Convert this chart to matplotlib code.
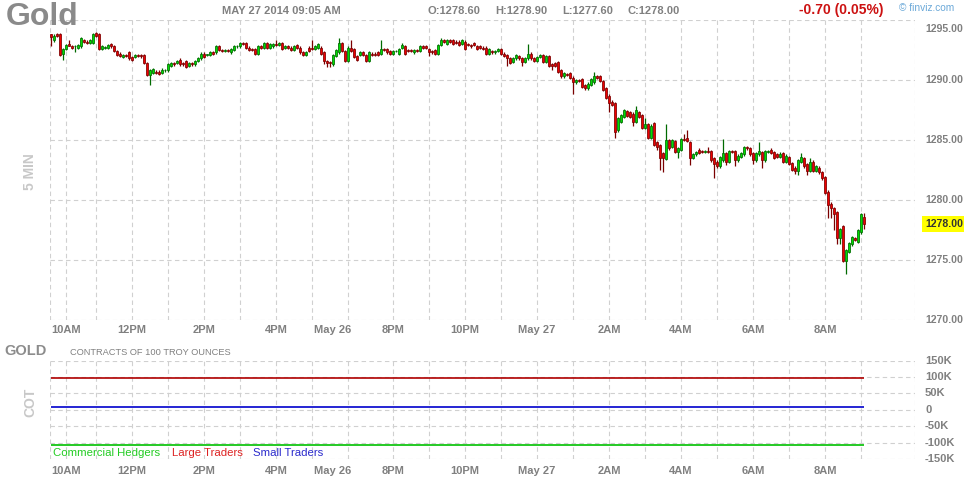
import matplotlib
matplotlib.use("Agg")
import matplotlib.pyplot as plt
import matplotlib.transforms as mtransforms

plt.rcParams['font.family'] = ['Liberation Sans', 'DejaVu Sans']

# ---------------- data (5-minute candles, Gold) ----------------
opens = [
    1293.8, 1293.3, 1293.8, 1293.8, 1292.2, 1292.6, 1293.0, 1292.8, 1292.8, 1292.7,
    1292.8, 1293.3, 1293.2, 1293.1, 1293.1, 1293.9, 1293.8, 1292.6, 1292.7, 1292.7,
    1293.0, 1292.8, 1292.4, 1292.2, 1291.9, 1292.1, 1292.3, 1291.9, 1291.9, 1292.1,
    1292.1, 1292.1, 1291.4, 1290.4, 1290.6, 1290.7, 1290.7, 1290.6, 1290.8, 1290.8,
    1291.2, 1291.4, 1291.4, 1291.7, 1291.4, 1291.6, 1291.2, 1291.4, 1291.3, 1291.6,
    1291.8, 1292.2, 1292.1, 1292.1, 1292.3, 1292.3, 1292.8, 1292.5, 1292.4, 1292.5,
    1292.3, 1292.5, 1292.8, 1292.8, 1293.1, 1293.1, 1292.7, 1292.6, 1292.6, 1292.2,
    1292.8, 1292.7, 1293.1, 1292.7, 1292.8, 1293.0, 1292.9, 1293.1, 1292.7, 1292.8,
    1292.7, 1292.5, 1292.9, 1292.7, 1292.3, 1292.1, 1292.7, 1292.7, 1292.6, 1292.7,
    1292.7, 1292.3, 1291.6, 1291.5, 1291.3, 1292.0, 1292.3, 1293.1, 1292.4, 1291.6,
    1292.7, 1292.6, 1292.0, 1292.1, 1292.3, 1292.1, 1291.6, 1292.2, 1292.2, 1292.3,
    1292.2, 1292.6, 1292.6, 1292.4, 1292.2, 1292.4, 1292.2, 1292.7, 1292.8, 1292.5,
    1292.5, 1292.3, 1292.5, 1292.4, 1292.8, 1292.8, 1292.6, 1292.4, 1292.5, 1292.2,
    1292.9, 1293.3, 1293.0, 1293.3, 1293.3, 1293.2, 1293.2, 1293.0, 1293.2, 1293.0,
    1292.9, 1293.1, 1292.8, 1292.8, 1292.7, 1292.7, 1292.2, 1292.4, 1292.3, 1292.4,
    1292.6, 1292.2, 1292.1, 1291.8, 1291.5, 1291.8, 1292.0, 1291.8, 1291.5, 1291.8,
    1292.2, 1291.8, 1291.6, 1291.9, 1292.1, 1291.5, 1292.0, 1291.3, 1291.4, 1291.5,
    1290.8, 1290.3, 1290.5, 1290.6, 1290.2, 1289.8, 1290.0, 1290.1, 1289.6, 1289.3,
    1289.6, 1289.8, 1290.3, 1290.3, 1289.9, 1289.3, 1288.7, 1288.2, 1288.1, 1285.8,
    1286.5, 1286.9, 1287.4, 1287.3, 1287.2, 1286.5, 1287.3, 1287.1, 1286.0, 1286.3,
    1285.2, 1286.4, 1284.8, 1284.6, 1283.9, 1283.4, 1285.0, 1284.4, 1284.9, 1284.0,
    1284.2, 1285.1, 1285.2, 1284.8, 1283.5, 1283.8, 1284.2, 1284.1, 1284.0, 1284.1,
    1284.1, 1283.5, 1283.2, 1282.8, 1283.3, 1283.9, 1283.2, 1284.1, 1284.1, 1283.3,
    1283.6, 1283.8, 1284.4, 1284.3, 1283.9, 1283.3, 1283.8, 1284.0, 1283.3, 1284.0,
    1284.2, 1284.0, 1283.8, 1283.6, 1283.9, 1283.2, 1283.6, 1283.1, 1282.7, 1282.4,
    1283.2, 1283.5, 1283.0, 1282.4, 1283.2, 1282.4, 1282.7, 1282.3, 1281.9, 1280.7,
    1279.7, 1279.3, 1279.0, 1276.8, 1277.8, 1274.9, 1275.7, 1276.3, 1276.8, 1276.5,
    1277.3, 1278.6,
]
highs = [
    1293.8, 1293.8, 1293.9, 1293.9, 1292.7, 1293.0, 1293.3, 1292.9, 1292.9, 1293.0,
    1293.6, 1293.4, 1293.3, 1293.4, 1293.9, 1294.0, 1293.9, 1292.9, 1292.8, 1293.0,
    1293.1, 1292.9, 1292.5, 1292.3, 1292.2, 1292.2, 1292.4, 1292.0, 1292.2, 1292.2,
    1292.2, 1292.2, 1291.5, 1290.9, 1291.0, 1290.8, 1290.8, 1291.0, 1290.9, 1291.4,
    1291.5, 1291.5, 1291.7, 1291.8, 1291.5, 1291.7, 1291.5, 1291.5, 1291.7, 1291.9,
    1292.3, 1292.3, 1292.2, 1292.4, 1292.4, 1292.9, 1292.9, 1292.6, 1292.6, 1292.6,
    1292.7, 1292.9, 1292.9, 1293.2, 1293.2, 1293.2, 1292.8, 1292.7, 1292.7, 1292.9,
    1292.9, 1293.2, 1293.2, 1293.1, 1293.1, 1293.3, 1293.2, 1293.2, 1292.9, 1292.9,
    1292.8, 1292.9, 1293.0, 1292.8, 1292.4, 1292.4, 1292.8, 1293.3, 1292.9, 1293.1,
    1292.8, 1292.4, 1291.7, 1291.6, 1292.2, 1292.6, 1293.5, 1293.2, 1292.5, 1292.8,
    1293.3, 1292.7, 1292.1, 1292.4, 1292.4, 1292.2, 1292.4, 1292.3, 1292.3, 1292.4,
    1293.3, 1292.7, 1292.7, 1292.5, 1292.5, 1292.5, 1292.7, 1293.1, 1292.9, 1292.6,
    1292.6, 1292.6, 1292.6, 1292.9, 1292.9, 1292.9, 1292.7, 1292.5, 1292.6, 1293.0,
    1293.5, 1293.4, 1293.4, 1293.4, 1293.4, 1293.3, 1293.3, 1293.4, 1293.3, 1293.1,
    1293.0, 1293.2, 1292.9, 1292.9, 1292.8, 1292.8, 1292.7, 1292.5, 1292.5, 1292.7,
    1292.7, 1292.3, 1292.2, 1291.9, 1291.9, 1292.2, 1292.1, 1291.9, 1291.9, 1293.0,
    1292.3, 1291.9, 1292.0, 1292.2, 1292.2, 1292.1, 1292.1, 1291.4, 1291.5, 1291.6,
    1290.9, 1290.7, 1290.6, 1290.7, 1290.3, 1290.1, 1290.1, 1290.2, 1289.7, 1289.8,
    1290.2, 1290.7, 1290.4, 1290.4, 1290.0, 1289.4, 1288.8, 1288.3, 1288.2, 1286.9,
    1287.2, 1287.6, 1287.5, 1287.4, 1287.3, 1287.8, 1287.4, 1287.2, 1286.8, 1286.4,
    1286.3, 1286.5, 1284.9, 1284.7, 1284.0, 1286.3, 1285.1, 1285.1, 1285.0, 1284.4,
    1285.2, 1285.5, 1285.8, 1284.9, 1283.9, 1284.1, 1284.3, 1284.2, 1284.2, 1284.4,
    1284.2, 1283.6, 1283.3, 1283.7, 1285.1, 1284.0, 1284.2, 1284.2, 1284.2, 1283.8,
    1284.0, 1284.5, 1284.5, 1284.4, 1284.0, 1284.0, 1284.8, 1284.1, 1284.2, 1284.2,
    1284.3, 1284.1, 1283.9, 1284.0, 1284.0, 1283.8, 1283.7, 1283.2, 1282.8, 1283.4,
    1283.9, 1283.6, 1283.1, 1283.5, 1283.3, 1282.9, 1282.8, 1282.4, 1282.0, 1280.8,
    1279.8, 1279.4, 1279.1, 1277.7, 1277.9, 1275.9, 1276.5, 1277.0, 1276.9, 1277.6,
    1278.9, 1278.9,
]
lows = [
    1292.8, 1293.2, 1293.6, 1292.0, 1291.7, 1292.5, 1292.8, 1292.6, 1292.3, 1292.6,
    1292.7, 1293.1, 1293.0, 1293.0, 1293.0, 1293.6, 1292.5, 1292.5, 1292.6, 1292.6,
    1292.7, 1292.3, 1292.0, 1291.9, 1291.8, 1291.9, 1291.7, 1291.6, 1291.8, 1291.9,
    1291.8, 1291.3, 1290.3, 1289.6, 1290.5, 1290.5, 1290.4, 1290.5, 1290.7, 1290.7,
    1291.1, 1291.2, 1291.3, 1291.2, 1291.2, 1291.0, 1291.1, 1291.2, 1291.2, 1291.5,
    1291.7, 1291.8, 1292.0, 1292.0, 1292.1, 1292.2, 1292.4, 1292.3, 1292.3, 1292.3,
    1292.2, 1292.4, 1292.7, 1292.7, 1292.9, 1292.6, 1292.4, 1292.4, 1292.1, 1292.1,
    1292.6, 1292.6, 1292.6, 1292.6, 1292.7, 1292.8, 1292.8, 1292.5, 1292.6, 1292.6,
    1292.4, 1292.4, 1292.6, 1292.2, 1292.0, 1292.0, 1292.3, 1292.5, 1292.5, 1292.6,
    1292.1, 1291.3, 1291.1, 1291.1, 1291.2, 1291.9, 1292.2, 1292.3, 1291.5, 1291.5,
    1292.3, 1291.8, 1291.6, 1292.0, 1292.0, 1291.5, 1291.5, 1292.0, 1292.0, 1292.0,
    1292.1, 1292.4, 1292.2, 1292.1, 1292.1, 1292.3, 1292.1, 1292.6, 1292.1, 1292.3,
    1292.3, 1292.2, 1292.3, 1292.3, 1292.6, 1292.6, 1292.0, 1292.2, 1292.1, 1292.1,
    1292.8, 1293.1, 1292.9, 1293.1, 1292.9, 1293.0, 1292.8, 1292.9, 1292.5, 1292.8,
    1292.7, 1292.8, 1292.5, 1292.6, 1292.5, 1292.1, 1292.1, 1292.2, 1292.2, 1292.3,
    1292.1, 1291.9, 1291.2, 1291.3, 1291.4, 1291.7, 1291.7, 1291.2, 1291.4, 1291.7,
    1291.7, 1291.5, 1291.5, 1291.8, 1291.4, 1291.4, 1291.1, 1290.8, 1291.1, 1290.6,
    1290.2, 1290.2, 1290.3, 1290.1, 1288.8, 1289.7, 1289.8, 1289.3, 1289.2, 1289.2,
    1289.5, 1289.7, 1290.1, 1289.8, 1289.1, 1288.4, 1287.3, 1287.8, 1285.2, 1285.7,
    1286.4, 1286.8, 1286.9, 1286.8, 1286.2, 1286.4, 1286.8, 1285.9, 1285.9, 1285.1,
    1285.1, 1284.5, 1284.2, 1282.5, 1282.3, 1283.3, 1284.2, 1284.3, 1283.9, 1283.5,
    1284.1, 1284.9, 1284.8, 1282.9, 1283.4, 1283.7, 1283.8, 1283.9, 1283.9, 1283.9,
    1283.2, 1281.8, 1282.7, 1282.7, 1283.2, 1282.9, 1283.1, 1283.9, 1282.8, 1283.2,
    1283.5, 1283.7, 1284.2, 1283.7, 1283.0, 1283.2, 1283.7, 1282.7, 1283.2, 1283.9,
    1283.8, 1283.4, 1283.5, 1283.5, 1283.1, 1283.1, 1282.9, 1282.4, 1282.2, 1282.1,
    1283.1, 1282.7, 1282.1, 1282.3, 1282.3, 1282.3, 1282.2, 1281.7, 1280.5, 1278.5,
    1278.5, 1277.5, 1276.3, 1276.3, 1274.8, 1273.8, 1275.6, 1276.2, 1276.6, 1276.4,
    1277.2, 1277.6,
]
closes = [
    1293.6, 1293.7, 1293.7, 1292.1, 1292.6, 1292.9, 1292.8, 1292.7, 1292.8, 1292.9,
    1293.5, 1293.2, 1293.1, 1293.3, 1293.8, 1293.7, 1292.6, 1292.8, 1292.7, 1292.9,
    1292.8, 1292.4, 1292.1, 1292.0, 1292.1, 1292.0, 1291.8, 1291.7, 1292.1, 1292.0,
    1292.0, 1291.4, 1290.4, 1290.8, 1290.9, 1290.6, 1290.5, 1290.8, 1290.8, 1291.3,
    1291.4, 1291.3, 1291.6, 1291.3, 1291.3, 1291.1, 1291.4, 1291.3, 1291.6, 1291.8,
    1292.2, 1291.9, 1292.1, 1292.3, 1292.2, 1292.8, 1292.5, 1292.4, 1292.5, 1292.4,
    1292.6, 1292.8, 1292.8, 1293.1, 1293.0, 1292.7, 1292.5, 1292.5, 1292.2, 1292.8,
    1292.7, 1293.1, 1292.7, 1293.0, 1293.0, 1292.9, 1293.1, 1292.6, 1292.8, 1292.7,
    1292.5, 1292.8, 1292.7, 1292.3, 1292.1, 1292.3, 1292.4, 1292.6, 1292.8, 1293.0,
    1292.2, 1291.6, 1291.4, 1291.4, 1292.1, 1292.5, 1293.1, 1292.4, 1291.6, 1292.7,
    1292.4, 1291.9, 1291.7, 1292.3, 1292.1, 1291.6, 1292.3, 1292.1, 1292.1, 1292.1,
    1292.6, 1292.5, 1292.3, 1292.2, 1292.4, 1292.4, 1292.6, 1292.9, 1292.2, 1292.4,
    1292.4, 1292.5, 1292.4, 1292.8, 1292.7, 1292.7, 1292.3, 1292.3, 1292.2, 1292.9,
    1293.3, 1293.2, 1293.3, 1293.2, 1293.0, 1293.1, 1292.9, 1293.3, 1292.6, 1292.9,
    1292.8, 1292.9, 1292.6, 1292.7, 1292.6, 1292.2, 1292.6, 1292.3, 1292.4, 1292.6,
    1292.2, 1292.0, 1291.8, 1291.4, 1291.8, 1292.1, 1291.8, 1291.5, 1291.8, 1292.2,
    1291.8, 1291.6, 1291.9, 1292.1, 1291.5, 1292.0, 1291.2, 1291.2, 1291.2, 1290.7,
    1290.3, 1290.6, 1290.4, 1290.2, 1289.8, 1290.0, 1289.9, 1289.4, 1289.3, 1289.7,
    1290.1, 1290.3, 1290.2, 1289.9, 1289.2, 1288.5, 1288.1, 1287.9, 1285.7, 1286.8,
    1287.1, 1287.5, 1287.0, 1286.9, 1286.5, 1287.5, 1286.9, 1286.0, 1286.3, 1285.2,
    1286.2, 1284.6, 1284.4, 1283.5, 1283.5, 1285.0, 1284.3, 1285.0, 1284.0, 1284.3,
    1285.1, 1285.0, 1284.9, 1283.5, 1283.8, 1284.0, 1283.9, 1284.0, 1284.1, 1284.0,
    1283.3, 1283.0, 1282.8, 1283.6, 1283.9, 1283.2, 1284.1, 1284.0, 1283.3, 1283.7,
    1283.9, 1284.4, 1284.3, 1283.8, 1283.3, 1283.9, 1284.1, 1283.3, 1284.1, 1284.1,
    1283.9, 1283.5, 1283.6, 1283.8, 1283.2, 1283.7, 1283.0, 1282.5, 1282.4, 1283.3,
    1283.6, 1282.8, 1282.4, 1283.2, 1282.4, 1282.8, 1282.3, 1281.8, 1280.6, 1279.6,
    1279.3, 1278.8, 1276.8, 1277.6, 1274.9, 1275.8, 1276.4, 1276.9, 1276.7, 1277.5,
    1278.8, 1278.0,
]

time_labels = ["10AM", "12PM", "2PM", "4PM", "May 26", "8PM", "10PM",
               "May 27", "2AM", "4AM", "6AM", "8AM"]
time_label_idx = [5, 27, 51, 75, 94, 114, 138, 162, 186, 210, 234, 258]
grid_idx = [5, 15, 27, 39, 51, 63, 75, 87, 99, 114, 126, 138, 150, 162,
            174, 186, 198, 210, 222, 234, 246, 258, 270]
price_ticks = [1295, 1290, 1285, 1280, 1275, 1270]
last_price = 1278.00

cot_ticks = [150000, 100000, 50000, 0, -50000, -100000, -150000]
cot_tick_labels = ["150K", "100K", "50K", "0", "-50K", "-100K", "-150K"]
cot_names = ["Commercial Hedgers", "Large Traders", "Small Traders"]
cot_values = [-106000, 97000, 9000]

header_date = "MAY 27 2014 09:05 AM"
header_ohlc = ["O:1278.60", "H:1278.90", "L:1277.60", "C:1278.00"]
header_change = "-0.70 (0.05%)"

# ---------------- layout helpers ----------------
W, H = 964, 480
fig = plt.figure(figsize=(W / 100, H / 100), dpi=100)
fig.patch.set_facecolor("white")


def rect(x0, y0, x1, y1):
    return [x0 / W, 1 - y1 / H, (x1 - x0) / W, (y1 - y0) / H]


def ftext(px, py, s, **kw):
    return fig.text(px / W, 1 - py / H, s, **kw)


GRID = "#d0d0d0"
GRAY = "#808080"
DASH = (0, (4, 3))
n = len(closes)
idx = list(range(n))
XL = (-0.33, 288.0)


def style_axes(a):
    a.set_xlim(*XL)
    for s in a.spines.values():
        s.set_visible(False)
    a.set_xticks([])
    a.set_yticks([])
    for g in grid_idx + list(XL):
        a.axvline(g, color=GRID, lw=0.8, ls=DASH, zorder=0)


# ---------------- main price panel ----------------
ax = fig.add_axes(rect(50, 20, 915, 320))
style_axes(ax)
ax.set_ylim(min(price_ticks), max(price_ticks))
for v in price_ticks:
    ax.axhline(v, color=GRID, lw=0.8, ls=DASH, zorder=0)

up_face, up_edge = "#00dd00", "#006a00"
dn_face, dn_edge = "#ee0000", "#7a0000"
faces = [up_face if c >= o else dn_face for o, c in zip(opens, closes)]
edges = [up_edge if c >= o else dn_edge for o, c in zip(opens, closes)]

ax.vlines(idx, lows, highs, colors=edges, lw=0.9, zorder=2)
bottoms = [min(o, c) for o, c in zip(opens, closes)]
heights = [max(abs(c - o), 0.05) for o, c in zip(opens, closes)]
ax.bar(idx, heights, bottom=bottoms, width=0.8, color=faces,
       edgecolor=edges, linewidth=0.55, zorder=3)

ytr = ax.get_yaxis_transform()
xlab = (925 - 50) / 865
for v in price_ticks:
    tr = ytr
    if v == max(price_ticks):
        tr = mtransforms.offset_copy(ytr, fig=fig, y=-6.3, units="points")
    ax.text(xlab, v, f"{v:.2f}", transform=tr, ha="left", va="center",
            fontsize=7.6, fontweight="bold", color=GRAY, clip_on=False)
ax.text(xlab, last_price, f"{last_price:.2f}", transform=ytr, ha="left",
        va="center", fontsize=7.6, fontweight="bold", color="#333333",
        bbox=dict(facecolor="#ffff00", edgecolor="none", pad=1.8),
        clip_on=False, zorder=6)

xtr = ax.get_xaxis_transform()
for lab, p in zip(time_labels, time_label_idx):
    ax.text(p, -10 / 300, lab, transform=xtr, ha="center", va="center",
            fontsize=8, fontweight="bold", color=GRAY, clip_on=False)

# ---------------- COT panel ----------------
ax2 = fig.add_axes(rect(50, 360.7, 915, 459))
style_axes(ax2)
ax2.set_ylim(min(cot_ticks), max(cot_ticks))
for v in cot_ticks:
    ax2.axhline(v, color=GRID, lw=0.8, ls=DASH, zorder=0)

cot_colors = ["#00c000", "#b00000", "#0000cc"]
for val, col in zip(cot_values, cot_colors):
    ax2.plot(idx, [val] * n, color=col, lw=1.2, zorder=3,
             solid_capstyle="butt")

ytr2 = ax2.get_yaxis_transform()
for v, lab in zip(cot_ticks, cot_tick_labels):
    ax2.text(xlab, v, lab, transform=ytr2, ha="left", va="center",
             fontsize=8, fontweight="bold", color=GRAY, clip_on=False)
xtr2 = ax2.get_xaxis_transform()
for lab, p in zip(time_labels, time_label_idx):
    ax2.text(p, -11.5 / 98.3, lab, transform=xtr2, ha="center", va="center",
             fontsize=8, fontweight="bold", color=GRAY, clip_on=False)

legend_colors = ["#22cc22", "#dd2222", "#2a2acc"]
legend_x = [53, 172, 253]
for name, col, lx in zip(cot_names, legend_colors, legend_x):
    ftext(lx, 452.5, name, ha="left", va="center", fontsize=8.2, color=col)

# ---------------- header & side texts ----------------
ftext(6, 17, "Gold", ha="left", va="center", fontsize=23,
      fontweight="bold", color="#8a8a8a")
ftext(281, 11, header_date, ha="center", va="center", fontsize=8,
      fontweight="bold", color=GRAY)
for s, px in zip(header_ohlc, [428, 495, 562, 628]):
    ftext(px, 11, s, ha="left", va="center", fontsize=8,
          fontweight="bold", color=GRAY)
ftext(799, 10, header_change, ha="left", va="center", fontsize=10,
      fontweight="bold", color="#cc1111")
ftext(899, 8, "\u00a9 finviz.com", ha="left", va="center", fontsize=7.3,
      color="#6aa8d8")

ftext(30, 172, "5 MIN", ha="center", va="center", rotation=90,
      fontsize=10, fontweight="bold", color="#c8c8c8")
ftext(30, 402, "COT", ha="center", va="center", rotation=90,
      fontsize=10, fontweight="bold", color="#c8c8c8")
ftext(4, 351, "GOLD", ha="left", va="center", fontsize=10.5,
      fontweight="bold", color="#8c8c8c")
ftext(70, 352.5, "CONTRACTS OF 100 TROY OUNCES", ha="left", va="center",
      fontsize=6.7, color=GRAY)

fig.savefig("out.png", dpi=100, facecolor="white")
